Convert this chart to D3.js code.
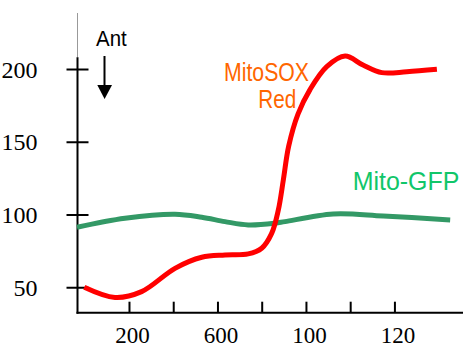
<!DOCTYPE html>
<html>
<head>
<meta charset="utf-8">
<script src="https://cdn.jsdelivr.net/npm/d3@7"></script>
<style>
  body { margin: 0; background: #fff; }
  svg { display: block; }
</style>
</head>
<body>
<svg></svg>
<script>
// Chart data
let mitoSoxX = [-2, 137, 257, 408, 529, 634, 739, 800, 845, 875, 898, 922, 964, 1019, 1094, 1177, 1258, 1343, 1456, 1592];
let mitoSoxY = [50, 43, 47, 63, 70.6, 72.2, 72.9, 76.8, 87, 103, 124, 147, 169, 186, 201.6, 208.9, 202.7, 197.5, 198.1, 199.8];
let mitoGfpX = [-35, 182, 408, 529, 634, 739, 860, 905, 1123, 1349, 1652];
let mitoGfpY = [91.2, 97.4, 100.2, 98.1, 95.1, 92.8, 94, 95.1, 100.4, 99, 96.2];
let yTicks = [50, 100, 150, 200];
let xTicks = [200, 400, 600, 800, 1000, 1200, 1400];
let xTickLabels = ['200', '', '600', '', '100', '', '120'];

let svgWidth = 463;
let svgHeight = 347;

let serif = '"Liberation Serif", serif';
let sans = '"Liberation Sans", sans-serif';

let svg = d3.select('svg')
  .attr('width', svgWidth)
  .attr('height', svgHeight);

// Scales
let xScale = d3.scaleLinear()
  .domain([-35, 1710])
  .range([77, 463]);

let yScale = d3.scaleLinear()
  .domain([32.5, 238.5])
  .range([312.7, 13]);

// Y axis: thin grey top, black below
svg.append('line')
  .attr('x1', 77.5).attr('x2', 77.5)
  .attr('y1', yScale(238.5)).attr('y2', yScale(208))
  .attr('stroke', '#999').attr('stroke-width', 1);

svg.append('line')
  .attr('x1', 77.5).attr('x2', 77.5)
  .attr('y1', yScale(208)).attr('y2', yScale(32.5) + 1)
  .attr('stroke', '#000').attr('stroke-width', 2);

// X axis line
svg.append('line')
  .attr('x1', 76.5).attr('x2', 463)
  .attr('y1', 312.7).attr('y2', 312.7)
  .attr('stroke', '#000').attr('stroke-width', 2);

// Y ticks cross the axis
let yAxis = d3.axisLeft(yScale)
  .tickValues(yTicks)
  .tickSize(11)
  .tickPadding(29)
  .tickFormat(d3.format('d'));

let yAxisG = svg.append('g')
  .attr('transform', 'translate(77.5, 0)')
  .call(yAxis)
  .attr('font-family', null)
  .attr('font-size', null);

yAxisG.select('.domain').remove();
yAxisG.selectAll('.tick line')
  .attr('x1', 11)
  .attr('x2', -11)
  .attr('stroke', '#000')
  .attr('stroke-width', 2);
yAxisG.selectAll('.tick text')
  .style('font-family', serif)
  .style('font-size', '24px')
  .attr('fill', '#000')
  .attr('dy', '0.34em');

// X ticks point up
let xAxis = d3.axisBottom(xScale)
  .tickValues(xTicks)
  .tickSize(-11)
  .tickFormat((d, i) => xTickLabels[i]);

let xAxisG = svg.append('g')
  .attr('transform', 'translate(0, 312.7)')
  .call(xAxis)
  .attr('font-family', null)
  .attr('font-size', null);

xAxisG.select('.domain').remove();
xAxisG.selectAll('.tick line')
  .attr('stroke', '#000')
  .attr('stroke-width', 2);
xAxisG.selectAll('.tick text')
  .style('font-family', serif)
  .style('font-size', '23px')
  .attr('fill', '#000')
  .attr('y', 30)
  .attr('dx', 3)
  .attr('dy', 0);

// Curves
let line = d3.line()
  .x(d => xScale(d[0]))
  .y(d => yScale(d[1]))
  .curve(d3.curveCatmullRom.alpha(0.5));

svg.append('path')
  .datum(mitoGfpX.map((x, i) => [x, mitoGfpY[i]]))
  .attr('d', line)
  .attr('fill', 'none')
  .attr('stroke', '#339966')
  .attr('stroke-width', 5);

svg.append('path')
  .datum(mitoSoxX.map((x, i) => [x, mitoSoxY[i]]))
  .attr('d', line)
  .attr('fill', 'none')
  .attr('stroke', '#ff0000')
  .attr('stroke-width', 5);

// Labels
svg.append('text')
  .attr('x', 224).attr('y', 80.7)
  .style('font-family', sans).style('font-size', '25px')
  .attr('textLength', 85).attr('lengthAdjust', 'spacingAndGlyphs')
  .attr('fill', '#ff6600')
  .text('MitoSOX');

svg.append('text')
  .attr('x', 258.3).attr('y', 108.3)
  .style('font-family', sans).style('font-size', '25px')
  .attr('textLength', 38).attr('lengthAdjust', 'spacingAndGlyphs')
  .attr('fill', '#ff6600')
  .text('Red');

svg.append('text')
  .attr('x', 352.7).attr('y', 190)
  .style('font-family', sans).style('font-size', '25px')
  .attr('textLength', 106.6).attr('lengthAdjust', 'spacingAndGlyphs')
  .attr('fill', '#11c66a')
  .text('Mito-GFP');

svg.append('text')
  .attr('x', 96).attr('y', 45.7)
  .style('font-family', sans).style('font-size', '22px')
  .attr('textLength', 30.7).attr('lengthAdjust', 'spacingAndGlyphs')
  .attr('fill', '#000')
  .text('Ant');

// Arrow
svg.append('line')
  .attr('x1', 104.5).attr('x2', 104.5)
  .attr('y1', 56).attr('y2', 86)
  .attr('stroke', '#000').attr('stroke-width', 2);

svg.append('path')
  .attr('d', 'M97.3,85 L112,85 L104.6,99 Z')
  .attr('fill', '#000');
</script>
</body>
</html>
